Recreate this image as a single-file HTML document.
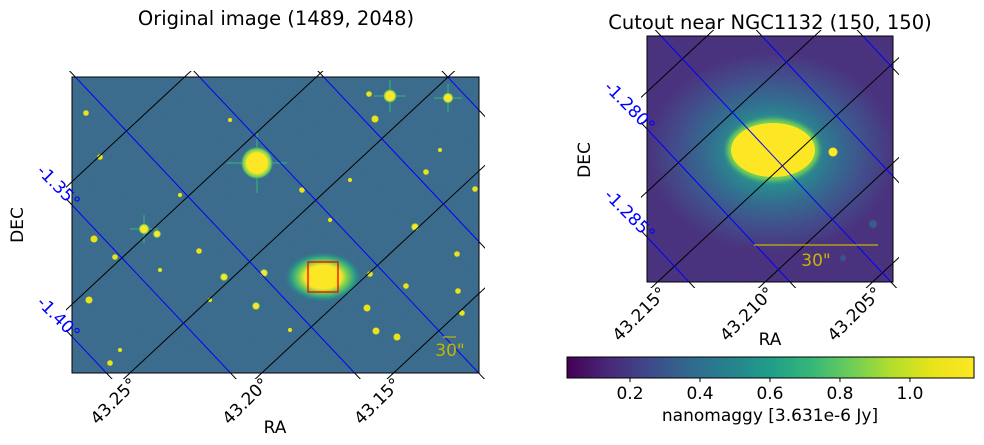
<!DOCTYPE html>
<html><head><meta charset="utf-8"><style>
html,body{margin:0;padding:0;background:#fff;overflow:hidden;width:984px;height:445px;}
svg{display:block;font-family:"DejaVu Sans","Liberation Sans",sans-serif;overflow:hidden;}
</style></head><body>
<svg id="fig" width="984" height="445" viewBox="0 0 984 445">
<defs>
<clipPath id="clipL"><rect x="72" y="77" width="407" height="296"/></clipPath>
<clipPath id="clipLo"><rect x="66" y="71" width="419" height="308"/></clipPath>
<clipPath id="clipR"><rect x="647" y="36" width="246" height="246"/></clipPath>
<clipPath id="clipRo"><rect x="641" y="30" width="258" height="258"/></clipPath>
<filter id="noise" x="0" y="0" width="100%" height="100%">
<feTurbulence type="fractalNoise" baseFrequency="0.9" numOctaves="1" seed="3"/>
<feColorMatrix type="matrix" values="0 0 0 0 0.3  0 0 0 0 0.5  0 0 0 0 0.55  0 0 0 0.35 0"/>
</filter>
<filter id="soft"><feGaussianBlur stdDeviation="2"/></filter>
<radialGradient id="galL" cx="0.5" cy="0.5" r="0.5">
<stop offset="0" stop-color="#fde725"/><stop offset="0.45" stop-color="#fde725"/>
<stop offset="0.6" stop-color="#7ad151"/><stop offset="0.8" stop-color="#2a9a88"/>
<stop offset="1" stop-color="#37688a" stop-opacity="0"/>
</radialGradient>
<radialGradient id="bgR" cx="0.5" cy="0.5" r="0.5">
<stop offset="0" stop-color="#5ec962"/><stop offset="0.3" stop-color="#21918c"/>
<stop offset="0.5" stop-color="#2e6c8e"/><stop offset="0.75" stop-color="#3e4a89"/>
<stop offset="1" stop-color="#472d7b"/>
</radialGradient>
<radialGradient id="star" cx="0.5" cy="0.5" r="0.5">
<stop offset="0" stop-color="#fde725"/><stop offset="0.6" stop-color="#fde725"/>
<stop offset="0.85" stop-color="#5ec962"/><stop offset="1" stop-color="#37688a" stop-opacity="0"/>
</radialGradient>
<linearGradient id="viridis" x1="0" x2="1" y1="0" y2="0">
<stop offset="0" stop-color="#440154"/><stop offset="0.1" stop-color="#482878"/>
<stop offset="0.2" stop-color="#3e4989"/><stop offset="0.3" stop-color="#31688e"/>
<stop offset="0.4" stop-color="#26828e"/><stop offset="0.5" stop-color="#1f9e89"/>
<stop offset="0.6" stop-color="#35b779"/><stop offset="0.7" stop-color="#6ece58"/>
<stop offset="0.8" stop-color="#b5de2b"/><stop offset="0.9" stop-color="#e8e419"/>
<stop offset="1" stop-color="#fde725"/>
</linearGradient>
</defs>

<text x="276" y="25" font-size="19.5" text-anchor="middle">Original image (1489, 2048)</text>
<text x="770" y="29" font-size="19.5" text-anchor="middle">Cutout near NGC1132 (150, 150)</text>

<g id="ticksL" clip-path="url(#clipLo)"></g>
<g>
<rect x="72" y="77" width="407" height="296" fill="#37688a"/>
<rect x="72" y="77" width="407" height="296" filter="url(#noise)" opacity="0.3"/>
<g id="starsL" clip-path="url(#clipL)"></g>
<ellipse cx="323" cy="277" rx="40" ry="26" fill="url(#galL)"/>
</g>
<g id="gridL" clip-path="url(#clipL)"></g>
<rect x="308" y="262" width="30" height="30" fill="none" stroke="#ff0000" stroke-width="1.3"/>
<line x1="443" y1="337" x2="456" y2="337" stroke="#c8b400" stroke-width="1.2"/>
<text x="450" y="356" font-size="17" fill="#c8b400" text-anchor="middle">30"</text>
<rect x="72" y="77" width="407" height="296" fill="none" stroke="#000" stroke-width="1"/>
<g id="labelsL"></g>
<text x="275" y="433" font-size="17" text-anchor="middle">RA</text>
<text transform="translate(23,225) rotate(-90)" font-size="17" text-anchor="middle">DEC</text>

<g id="ticksR" clip-path="url(#clipRo)"></g>
<g>
<rect x="647" y="36" width="246" height="246" fill="#472d7b"/>
<ellipse cx="772" cy="152" rx="125" ry="100" fill="url(#bgR)" clip-path="url(#clipR)"/>
<rect x="647" y="36" width="246" height="246" filter="url(#noise)" opacity="0.25"/>
<ellipse cx="773" cy="150" rx="46" ry="31" fill="#7ad151" filter="url(#soft)"/>
<ellipse cx="773" cy="150" rx="42" ry="27" fill="#fde725"/>
<circle cx="833" cy="152" r="4.5" fill="#fde725"/>
<circle cx="873" cy="224" r="4" fill="#2a788e" opacity="0.6"/>
<circle cx="843" cy="258" r="3" fill="#2a788e" opacity="0.5"/>
</g>
<g id="gridR" clip-path="url(#clipR)"></g>
<line x1="754" y1="245" x2="878" y2="245" stroke="#c8b400" stroke-width="1.2"/>
<text x="816" y="266" font-size="17" fill="#c8b400" text-anchor="middle">30"</text>
<rect x="647" y="36" width="246" height="246" fill="none" stroke="#000" stroke-width="1"/>
<g id="labelsR"></g>
<text x="770" y="345" font-size="17" text-anchor="middle">RA</text>
<text transform="translate(590,160) rotate(-90)" font-size="17" text-anchor="middle">DEC</text>

<g>
<rect x="567" y="357" width="407" height="21" fill="url(#viridis)" stroke="#000" stroke-width="1"/>
<g id="cbTicks"></g>
<text x="770" y="421" font-size="17" text-anchor="middle">nanomaggy [3.631e-6 Jy]</text>
</g>
</svg>
<script>
const NS='http://www.w3.org/2000/svg';
// Left panel WCS grid
const raGridL=[43.35,43.30,43.25,43.20,43.15,43.10,43.05,43.00];
const decGridL=[-1.10,-1.15,-1.20,-1.25,-1.30,-1.35,-1.40,-1.45,-1.50,-1.55];
const raLabelsL=['43.25°','43.20°','43.15°'];
const raLabelValsL=[43.25,43.20,43.15];
const decLabelsL=['-1.35°','-1.40°'];
const decLabelValsL=[-1.35,-1.40];
// Right panel WCS grid
const raGridR=[43.225,43.220,43.215,43.210,43.205,43.200,43.195];
const decGridR=[-1.265,-1.270,-1.275,-1.280,-1.285,-1.290,-1.295,-1.300];
const raLabelsR=['43.215°','43.210°','43.205°'];
const raLabelValsR=[43.215,43.210,43.205];
const decLabelsR=['-1.280°','-1.285°'];
const decLabelValsR=[-1.280,-1.285];
// Colorbar ticks
const cbTickVals=[0.2,0.4,0.6,0.8,1.0];
const cbTickLabels=['0.2','0.4','0.6','0.8','1.0'];
const cbMin=0.02, cbMax=1.183;
// Left image star catalogue
const starX=[257,390,448,144,157,94,86,375,415,224,264,256,199,367,376,397,457,458,89,115,462,406,370,110,369,426,475,100,302,290,180,330,210,120,440,350,160,230];
const starY=[163,96,98,229,234,239,113,119,227,277,273,306,251,308,331,337,254,291,300,257,313,286,274,363,94,172,189,157,190,330,195,220,300,350,150,180,270,120];
const starR=[12,5,4,4,3,2.5,2,2.5,3,3,3,3,2,2.5,2.5,2.5,2,2,2.5,2,2,2,2,2,2,2,2,2,2,1.5,1.5,1.5,1.5,1.5,1.5,1.5,1.5,1.5];
const spikeStars=[0,1,2,3];

function projL(ra,dec){const u=(ra-43.20)/-0.05,v=(dec+1.35)/0.05;return[245.1+61.6*u+66.1*v,388.5+65.3*u-61.5*v];}
function projR(ra,dec){const u=(ra-43.210)/-0.005,v=(dec+1.285)/0.005;return[724.4+50*u+54*v,319.8+53.5*u-50.2*v];}

function mkLine(g,p1,p2,color,name){
  const l=document.createElementNS(NS,'line');
  l.setAttribute('x1',p1[0]);l.setAttribute('y1',p1[1]);l.setAttribute('x2',p2[0]);l.setAttribute('y2',p2[1]);
  l.setAttribute('stroke',color);l.setAttribute('stroke-width','1');
  
  
  g.appendChild(l);
}
function mkText(g,x,y,txt,rot,color,size,anchor,name){
  const t=document.createElementNS(NS,'text');
  t.setAttribute('transform','translate('+x+','+y+') rotate('+rot+')');
  t.setAttribute('font-size',size);t.setAttribute('fill',color);t.setAttribute('text-anchor',anchor);
  t.textContent=txt;
  
  
  g.appendChild(t);
}
function drawGrid(proj,ras,decs,ticksId,gridId,span){
  const tg=document.getElementById(ticksId),gg=document.getElementById(gridId);
  const d0=decs[0],d1=decs[decs.length-1],r0=ras[0],r1=ras[ras.length-1];
  ras.forEach(ra=>{
    const a=proj(ra,d0+span),b=proj(ra,d1-span);
    mkLine(tg,a,b,'#000','ra-tick');
    mkLine(gg,a,b,'#000','ra-grid-line');
  });
  decs.forEach(dec=>{
    const a=proj(r0+span,dec),b=proj(r1-span,dec);
    mkLine(tg,a,b,'#000','dec-tick');
    mkLine(gg,a,b,'#0000ff','dec-grid-line');
  });
}
drawGrid(projL,raGridL,decGridL,'ticksL','gridL',0.2);
drawGrid(projR,raGridR,decGridR,'ticksR','gridR',0.02);

function bottomX(proj,ra,decRef,yb){const p=proj(ra,decRef),q=proj(ra,decRef+1e-3);const t=(yb-p[1])/(q[1]-p[1]);return p[0]+t*(q[0]-p[0]);}
function leftY(proj,dec,raRef,xl){const p=proj(raRef,dec),q=proj(raRef+1e-3,dec);const t=(xl-p[0])/(q[0]-p[0]);return p[1]+t*(q[1]-p[1]);}

const lL=document.getElementById('labelsL');
raLabelValsL.forEach((ra,i)=>{const x=bottomX(projL,ra,-1.35,373);mkText(lL,x+8,385,raLabelsL[i],-45,'#000',17,'end','ra-tick-label');});
decLabelValsL.forEach((dec,i)=>{const y=leftY(projL,dec,43.20,72);mkText(lL,73,y+4,decLabelsL[i],45,'#0000ff',17,'end','dec-tick-label');});
const lR=document.getElementById('labelsR');
raLabelValsR.forEach((ra,i)=>{const x=bottomX(projR,ra,-1.285,282);mkText(lR,x+10,294,raLabelsR[i],-45,'#000',17,'end','ra-tick-label');});
decLabelValsR.forEach((dec,i)=>{const y=leftY(projR,dec,43.210,647);mkText(lR,648,y+4,decLabelsR[i],45,'#0000ff',17,'end','dec-tick-label');});

const sg=document.getElementById('starsL');
starX.forEach((x,i)=>{
  const r=starR[i];
  if(spikeStars.includes(i)){
    const L=r*2+6;
    mkLine(sg,[x-L,starY[i]],[x+L,starY[i]],'#35b779','star-spike');
    mkLine(sg,[x,starY[i]-L],[x,starY[i]+L],'#35b779','star-spike');
  }
  const c=document.createElementNS(NS,'circle');
  c.setAttribute('cx',x);c.setAttribute('cy',starY[i]);c.setAttribute('r',r*1.4);
  c.setAttribute('fill',r>=3?'url(#star)':'#e8e419');
  
  
  sg.appendChild(c);
});

const cg=document.getElementById('cbTicks');
const cbX=v=>567+(v-cbMin)/(cbMax-cbMin)*407;
cbTickVals.forEach((v,i)=>{
  const x=cbX(v);
  mkLine(cg,[x,378],[x,382],'#000','colorbar-tick');
  mkText(cg,x,399,cbTickLabels[i],0,'#000',17,'middle','colorbar-tick-label');
});
</script>
</body></html>
